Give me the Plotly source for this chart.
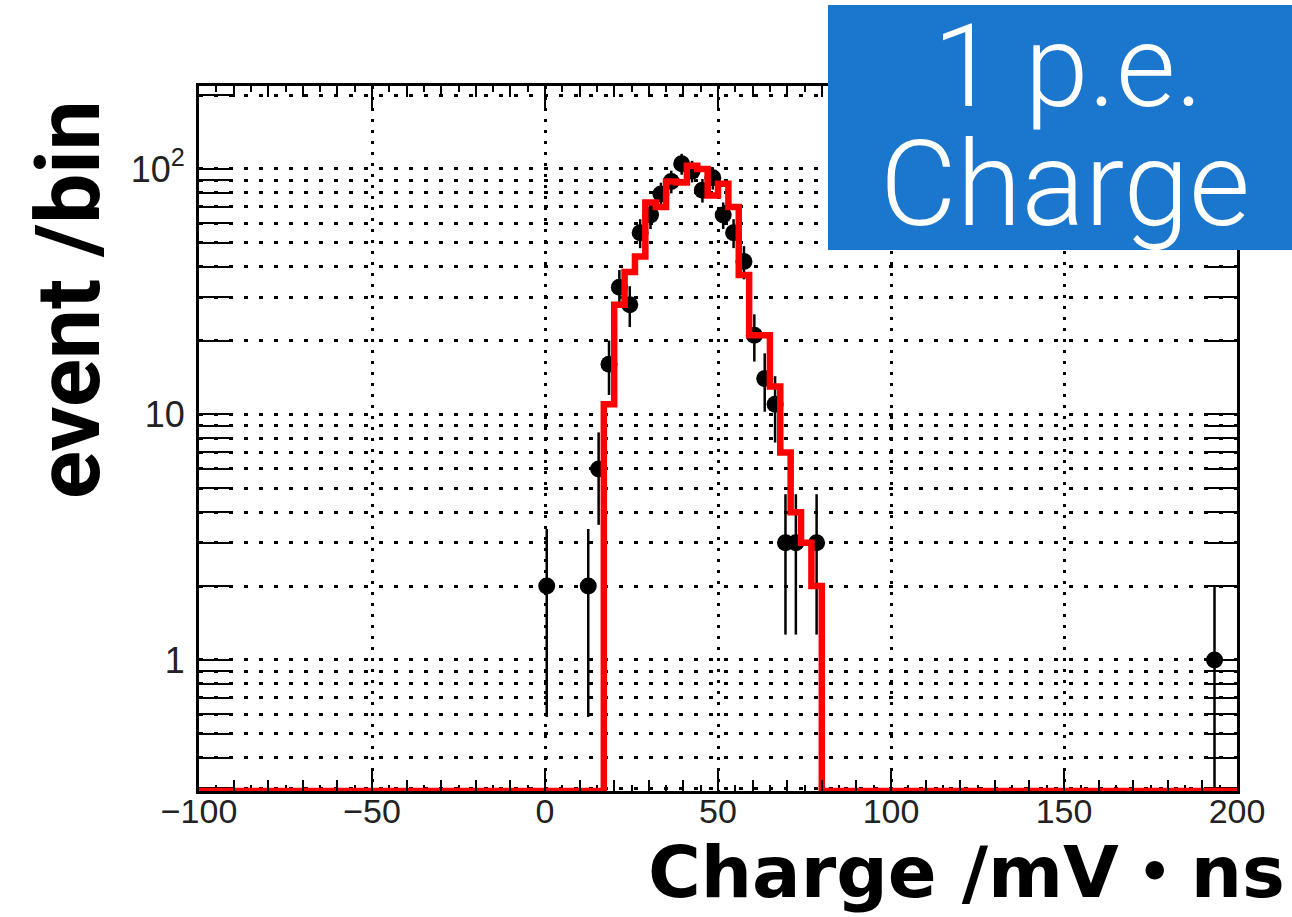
import numpy as np
import plotly.graph_objects as go

# ---------------- data ----------------
HIST_LO, HIST_HI, BIN_W = -100, 200, 3          # histogram binning
mc_first_edge = 17                               # first non-empty MC bin (lower edge)
mc_counts = [11, 28, 38, 44, 73, 70, 89, 88, 103, 100, 78,
             87, 70, 37, 21, 21, 13, 7, 4, 3, 2]

data_x = [0.5, 12.5, 15.5, 18.5, 21.5, 24.5, 27.5, 30.5, 33.5, 36.5, 39.5,
          42.5, 45.5, 48.5, 51.5, 54.5, 57.5, 60.5, 63.5, 66.5, 69.5, 72.5,
          78.5, 193.5]
data_y = [2, 2, 6, 16, 33, 28, 55, 65, 79, 89, 105,
          98, 82, 92, 65, 55, 42, 21, 14, 11, 3, 3,
          3, 1]

x_tick_vals = [-100, -50, 0, 50, 100, 150, 200]
y_tick_vals = [1, 10, 100]
y_tick_text = ["1", "10", "10<sup>2</sup>"]
y_minor_vals = [0.3, 0.4, 0.5, 0.6, 0.7, 0.8, 0.9,
                2, 3, 4, 5, 6, 7, 8, 9,
                20, 30, 40, 50, 60, 70, 80, 90, 200]

Y_LOG_RANGE = [-0.534, 2.338]

# ---------------- figure geometry ----------------
W, H = 1292, 917
L, R, T, B = 199, 55, 86, 126
PW, PH = W - L - R, H - T - B


def px_x(p):
    return (p - L) / PW


def px_y(p):
    return (H - B - p) / PH


# ---------------- build histogram steps ----------------
edges = np.arange(HIST_LO, HIST_HI + BIN_W, BIN_W)
counts = np.zeros(len(edges) - 1)
i0 = int((mc_first_edge - HIST_LO) / BIN_W)
counts[i0:i0 + len(mc_counts)] = mc_counts
floor_val = 10 ** Y_LOG_RANGE[0]
draw_counts = np.where(counts > 0, counts, floor_val)
step_y = np.append(draw_counts, draw_counts[-1])

err = np.sqrt(np.array(data_y, dtype=float))

fig = go.Figure()

fig.add_trace(go.Scatter(
    x=data_x, y=data_y, mode="markers",
    marker=dict(size=17, color="black", symbol="circle"),
    error_y=dict(type="data", array=err, arrayminus=err, thickness=2.5,
                 width=0, color="black"),
    error_x=dict(type="constant", value=BIN_W / 2, thickness=2.5, width=0,
                 color="black"),
    showlegend=False, hoverinfo="skip", cliponaxis=False,
))

fig.add_trace(go.Scatter(
    x=edges, y=step_y, mode="lines", line=dict(color="#ff0000", width=6.5, shape="hv"),
    showlegend=False, hoverinfo="skip",
))

# dummy trace for the secondary (10-unit) tick axis
fig.add_trace(go.Scatter(x=[0], y=[1], xaxis="x2", mode="markers",
                         marker=dict(opacity=0), showlegend=False, hoverinfo="skip"))

X_TICK_FONT = dict(family="Liberation Sans, Arial, sans-serif", size=34, color="#222222")
Y_TICK_FONT = dict(family="Liberation Sans, Arial, sans-serif", size=36, color="#222222")

fig.update_layout(
    width=W, height=H,
    margin=dict(l=L, r=R, t=T, b=B, pad=0),
    paper_bgcolor="white", plot_bgcolor="white",
    xaxis=dict(
        range=[HIST_LO, HIST_HI], tickmode="array", tickvals=x_tick_vals,
        ticks="inside", ticklen=23, tickwidth=2, tickcolor="black",
        showline=True, linewidth=3, linecolor="black", mirror="allticks",
        showgrid=True, gridcolor="#000000", gridwidth=2.5, griddash="3px,8px",
        zeroline=False, tickfont=X_TICK_FONT, layer="below traces",
        ticklabelstandoff=-12,
        minor=dict(tickmode="linear", tick0=0, dtick=5, ticks="inside",
                   ticklen=6, tickwidth=2, tickcolor="black", showgrid=False),
    ),
    xaxis2=dict(
        range=[HIST_LO, HIST_HI], overlaying="x", anchor="y", side="bottom",
        tickmode="linear", tick0=0, dtick=10, ticks="inside", ticklen=11,
        tickwidth=2, tickcolor="black", showticklabels=False, showgrid=False,
        showline=False, zeroline=False, mirror="allticks",
    ),
    yaxis=dict(
        type="log", range=Y_LOG_RANGE, tickmode="array", tickvals=y_tick_vals,
        ticktext=y_tick_text, ticks="inside", ticklen=31, tickwidth=2,
        tickcolor="black", showline=True, linewidth=3, linecolor="black",
        mirror="allticks", showgrid=True, gridcolor="#000000", gridwidth=3,
        griddash="4px,11px", zeroline=False, tickfont=Y_TICK_FONT,
        ticklabelstandoff=4, layer="below traces",
        minor=dict(tickmode="array", tickvals=y_minor_vals, ticks="inside",
                   ticklen=15, tickwidth=2, tickcolor="black", showgrid=True,
                   gridcolor="#000000", gridwidth=3, griddash="4px,11px"),
    ),
    shapes=[dict(type="rect", xref="paper", yref="paper",
                 x0=px_x(828), x1=px_x(1300), y0=px_y(250), y1=px_y(5),
                 fillcolor="#1b76cd", line=dict(width=0), layer="above")],
    annotations=[
        dict(text="1 p.e.", xref="paper", yref="paper", x=px_x(1068), y=px_y(136),
             xanchor="center", yanchor="bottom", height=118, valign="bottom",
             showarrow=False,
             font=dict(family="Roboto, Noto Sans, sans-serif", size=115,
                       color="white", weight=300)),
        dict(text="Charge", xref="paper", yref="paper", x=px_x(1065), y=px_y(256),
             xanchor="center", yanchor="bottom", height=118, valign="bottom",
             showarrow=False,
             font=dict(family="Roboto, Noto Sans, sans-serif", size=118,
                       color="white", weight=300)),
        dict(text="event /bin", xref="paper", yref="paper", x=px_x(68), y=px_y(300),
             xanchor="center", yanchor="middle", textangle=-90, showarrow=False,
             font=dict(family="Roboto, Liberation Sans, sans-serif", size=89,
                       color="black", weight="bold")),
        dict(text="Charge /mV・ns", xref="paper", yref="paper", x=px_x(1287),
             y=px_y(916), xanchor="right", yanchor="bottom", showarrow=False,
             font=dict(family="DejaVu Sans, Noto Sans CJK JP, sans-serif",
                       size=72, color="black", weight="bold")),
    ],
)

fig.write_html("out.html")
